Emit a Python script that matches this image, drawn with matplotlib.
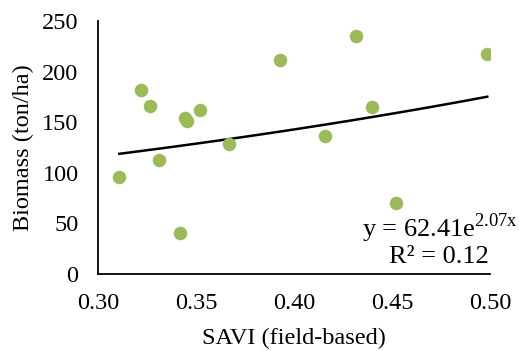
import numpy as np
import matplotlib
matplotlib.use("Agg")
import matplotlib.pyplot as plt

plt.rcParams['font.family'] = ['Liberation Serif', 'DejaVu Serif']
plt.rcParams['mathtext.fontset'] = 'custom'
plt.rcParams['mathtext.rm'] = 'Liberation Serif'

# field SAVI vs biomass
savi = [0.322, 0.3264, 0.3444, 0.3452, 0.352, 0.367, 0.3313, 0.3109,
        0.3418, 0.3929, 0.4316, 0.4986, 0.4396, 0.4156, 0.4522]
biomass = [182, 165.7, 154.5, 151, 162, 128, 112.3, 96,
           40.8, 211, 235, 217, 165.4, 136.7, 70]

# exponential trendline y = a*e^(b*x)
a, b = 62.41, 2.07
xfit = np.linspace(min(savi), max(savi), 100)
yfit = a * np.exp(b * xfit)

fig = plt.figure(figsize=(5.19, 3.51), dpi=100)
ax = fig.add_axes([98/519, 77/351, 392/519, 253/351])

ax.scatter(savi, biomass, s=95, color='#9BBB59', zorder=3, linewidths=0)
ax.plot(xfit, yfit, color='black', lw=1.8, zorder=2)

ax.set_xlim(0.30, 0.50)
ax.set_ylim(0, 250)
ax.set_xticks([0.30, 0.35, 0.40, 0.45, 0.50])
ax.set_xticklabels(['0.30', '0.35', '0.40', '0.45', '0.50'])
ax.set_yticks([0, 50, 100, 150, 200, 250])
ax.tick_params(length=0, labelsize=17.5)
ax.tick_params(axis='y', pad=14)
ax.tick_params(axis='x', pad=14)
for s in ['top', 'right']:
    ax.spines[s].set_visible(False)
for s in ['left', 'bottom']:
    ax.spines[s].set_linewidth(1.3)

ax.set_xlabel('SAVI (field-based)', fontsize=17.5, labelpad=10)
ax.set_ylabel('Biomass (ton/ha)', fontsize=17.5, labelpad=6)

fig.text(362/519, 1 - 237/351, r'y = 62.41e$^{\mathrm{2.07x}}$', fontsize=19, ha='left', va='baseline')
fig.text(489/519, 1 - 263/351, 'R² = 0.12', fontsize=19, ha='right', va='baseline')

fig.savefig('out.png', dpi=100)
